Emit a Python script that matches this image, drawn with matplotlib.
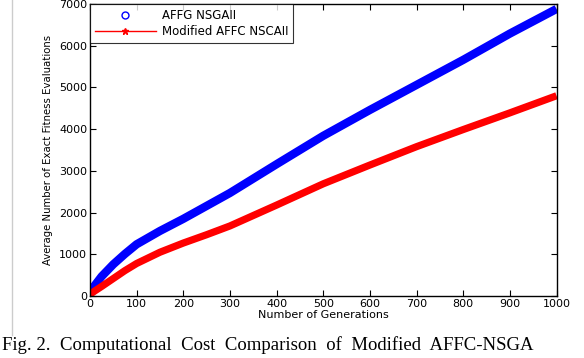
import matplotlib
matplotlib.use("Agg")
import matplotlib.pyplot as plt
from matplotlib.lines import Line2D

plt.rcParams['font.family'] = ['DejaVu Sans']

# values (every ~50-100 generations)
generations = [0, 10, 25, 50, 75, 100, 150, 200, 250, 300, 400, 500, 600, 700, 800, 900, 1000]
affg_nsga = [80, 250, 470, 760, 1010, 1240, 1560, 1850, 2160, 2470, 3160, 3840, 4460, 5060, 5660, 6290, 6880]
modified_affc = [40, 120, 230, 420, 610, 780, 1050, 1270, 1470, 1680, 2180, 2690, 3140, 3580, 3990, 4390, 4800]

series_labels = ['AFFG NSGAII', 'Modified AFFC NSCAII']
x_ticks = [0, 100, 200, 300, 400, 500, 600, 700, 800, 900, 1000]
y_ticks = [0, 1000, 2000, 3000, 4000, 5000, 6000, 7000]
caption = 'Fig. 2.  Computational  Cost  Comparison  of  Modified  AFFC-NSGA'

fig = plt.figure(figsize=(5.84, 3.58), dpi=100)
ax = fig.add_axes([0.154, 0.173, 0.799, 0.816])

# dense markers in the original make a thick band, so draw a thick line
ax.plot(generations, affg_nsga, color='#0000ff', linewidth=6, solid_capstyle='butt')
ax.plot(generations, modified_affc, color='#ff0000', linewidth=5.2, solid_capstyle='butt')

ax.set_xlim(0, 1000)
ax.set_ylim(0, 7000)
ax.set_xticks(x_ticks)
ax.set_yticks(y_ticks)
ax.tick_params(direction='in', top=True, right=True, length=4, width=0.8,
               labelsize=8, pad=2)
for s in ax.spines.values():
    s.set_linewidth(1.0)

ax.set_xlabel('Number of Generations', fontsize=8, labelpad=1)
ax.set_ylabel('Average Number of Exact Fitness Evaluations', fontsize=7.3, labelpad=4)

handles = [
    Line2D([], [], color='#0000ff', marker='o', linestyle='none',
           markerfacecolor='none', markersize=5),
    Line2D([], [], color='#ff0000', marker='*', linestyle='-', linewidth=1,
           markersize=5),
]
leg = ax.legend(handles, series_labels, loc='upper left', fontsize=8.5,
                frameon=True, fancybox=False, borderaxespad=0,
                handlelength=5.2, borderpad=0.4, labelspacing=0.3,
                handletextpad=0.5)
leg.get_frame().set_edgecolor('black')
leg.get_frame().set_linewidth(0.8)

# page edge and caption from the source document
fig.add_artist(Line2D([0.021, 0.021], [1.0, 0.065], color='#cccccc', linewidth=1))
fig.text(0.003, 0.022, caption,
         family=['Liberation Serif', 'DejaVu Serif'], fontsize=13.5)

fig.savefig('out.png', dpi=100)
